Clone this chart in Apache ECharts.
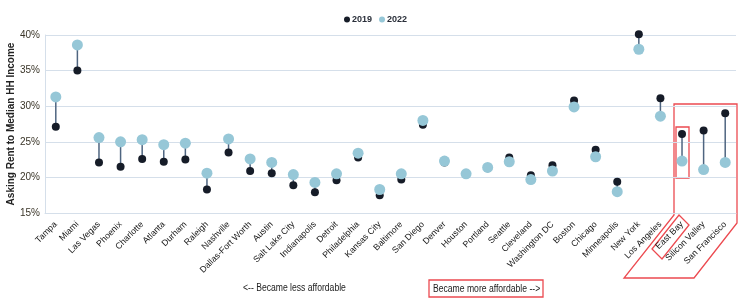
<!DOCTYPE html>
<html>
<head>
<meta charset="utf-8">
<script src="https://cdn.jsdelivr.net/npm/echarts@6/dist/echarts.min.js"></script>
<style>
  html, body { margin: 0; padding: 0; background: #fff; }
  #main { width: 739px; height: 298px; }
</style>
</head>
<body>
<div id="main"></div>
<script>
// metros, ordered by change in affordability
var cities = ['Tampa', 'Miami', 'Las Vegas', 'Phoenix', 'Charlotte', 'Atlanta', 'Durham', 'Raleigh',
  'Nashville', 'Dallas-Fort Worth', 'Austin', 'Salt Lake City', 'Indianapolis', 'Detroit', 'Philadelphia',
  'Kansas City', 'Baltimore', 'San Diego', 'Denver', 'Houston', 'Portland', 'Seattle', 'Cleveland',
  'Washington DC', 'Boston', 'Chicago', 'Minneapolis', 'New York', 'Los Angeles', 'East Bay',
  'Silicon Valley', 'San Francisco'];

// asking rent to median HH income, %
var y2019 = [27.1, 35.0, 22.1, 21.5, 22.6, 22.2, 22.5, 18.3, 23.5, 20.9, 20.6, 18.9, 17.9, 19.6, 22.8,
  17.5, 19.7, 27.4, 22.1, 20.4, 21.3, 22.8, 20.3, 21.7, 30.8, 23.9, 19.4, 40.1, 31.1, 26.1, 26.6, 29.0];
var y2022 = [31.3, 38.6, 25.6, 25.0, 25.3, 24.6, 24.8, 20.6, 25.4, 22.6, 22.1, 20.4, 19.3, 20.5, 23.4,
  18.3, 20.5, 28.0, 22.3, 20.5, 21.4, 22.2, 19.7, 20.9, 29.9, 22.9, 18.0, 38.0, 28.6, 22.3, 21.1, 22.1];

var dark = '#161c28';
var light = '#96c7d7';
var red = '#ec4a50';

var pairs = cities.map(function (c, i) { return [i, y2019[i], y2022[i]]; });

var chart = echarts.init(document.getElementById('main'));
chart.setOption({
  animation: false,
  textStyle: { fontFamily: 'Liberation Sans, Arial, sans-serif' },
  legend: {
    top: 10,
    left: 339,
    itemWidth: 6,
    itemHeight: 6,
    itemGap: 7,
    icon: 'circle',
    textStyle: { fontSize: 9, fontWeight: 'bold', color: '#2a2f3a', padding: [0, 0, 0, -3] },
    data: ['2019', '2022']
  },
  grid: { left: 45, right: 3, top: 35, bottom: 85, outerBoundsMode: 'none' },
  xAxis: {
    type: 'category',
    data: cities,
    axisLine: { show: true, lineStyle: { color: '#d5dfea' } },
    axisTick: { show: false },
    axisLabel: { rotate: 45, fontSize: 8.8, color: '#161616', margin: 10, interval: 0 }
  },
  yAxis: {
    type: 'value',
    min: 15,
    max: 40,
    interval: 5,
    name: 'Asking Rent to Median HH Income',
    nameLocation: 'middle',
    nameGap: 29,
    nameMoveOverlap: false,
    nameTextStyle: { fontSize: 10, fontWeight: 'bold', color: '#222' },
    axisLine: { show: true, lineStyle: { color: '#d5dfea' } },
    axisTick: { show: false },
    axisLabel: { formatter: '{value}%', fontSize: 10, color: '#3a3528', margin: 5 },
    splitLine: { lineStyle: { color: '#d5dfea', width: 1.2 } }
  },
  series: [
    {
      type: 'custom',
      silent: true,
      clip: false,
      data: pairs,
      renderItem: function (params, api) {
        var a = api.coord([api.value(0), api.value(1)]);
        var b = api.coord([api.value(0), api.value(2)]);
        return {
          type: 'line',
          shape: { x1: a[0], y1: a[1], x2: b[0], y2: b[1] },
          style: { stroke: '#4f6580', lineWidth: 1.5 }
        };
      },
      z: 1
    },
    {
      name: '2019',
      type: 'scatter',
      data: y2019,
      clip: false,
      symbolSize: 8,
      itemStyle: { color: dark, opacity: 1 },
      z: 2
    },
    {
      name: '2022',
      type: 'scatter',
      data: y2022,
      clip: false,
      symbolSize: 11,
      itemStyle: { color: light, opacity: 1 },
      z: 3
    }
  ],
  graphic: [
    {
      type: 'text', x: 243, y: 283, scaleX: 0.86,
      style: { text: '<-- Became less affordable', fontSize: 10, fill: '#222' }
    },
    {
      type: 'text', x: 433, y: 284, scaleX: 0.86,
      style: { text: 'Became more affordable -->', fontSize: 10, fill: '#222' }
    },
    {
      type: 'rect', shape: { x: 429, y: 280, width: 114, height: 17 },
      style: { fill: 'none', stroke: red, lineWidth: 1.3 }
    },
    {
      type: 'polygon',
      shape: { points: [[674, 104], [737, 104], [737, 223], [694, 278], [624, 278], [674, 215]] },
      style: { fill: 'none', stroke: red, lineWidth: 1.3 }
    },
    {
      type: 'rect', shape: { x: 676, y: 127, width: 13, height: 51 },
      style: { fill: 'none', stroke: red, lineWidth: 1.3 }
    },
    {
      type: 'polygon',
      shape: { points: [[679, 215], [689, 225], [662, 259], [652, 249]] },
      style: { fill: 'none', stroke: red, lineWidth: 1.3 }
    }
  ]
});
</script>
</body>
</html>
